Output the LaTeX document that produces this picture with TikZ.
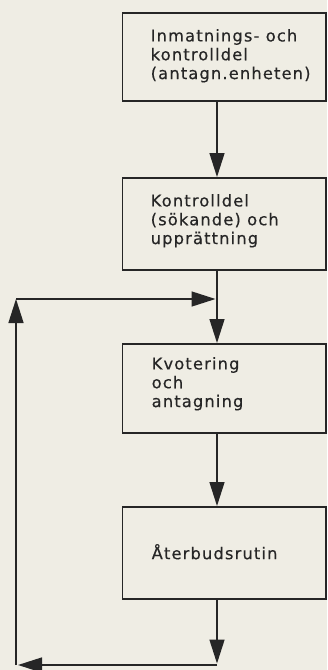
\documentclass[tikz,border=0pt]{standalone}
\usepackage{fontspec}
\setmainfont{DejaVu Sans}[LetterSpace=7,FakeBold=0.4]
\usetikzlibrary{arrows.meta,calc}
\definecolor{paper}{RGB}{239,237,228}
\definecolor{ink}{RGB}{38,38,38}
\begin{document}
\begin{tikzpicture}[x=1pt,y=-1pt,
  stepbox/.style={draw=ink, line width=1.5pt, minimum width=203.5pt, inner sep=0pt, anchor=north west},
  txt/.style={font=\fontsize{16.3}{18.8}\selectfont, text=ink, align=left, inner sep=0pt, anchor=west},
  arr/.style={draw=ink, line width=1.5pt, -{Triangle[length=24pt,width=15pt]}}]
\useasboundingbox[fill=paper] (0,0) rectangle (327,670);
% boxes
\node[stepbox, minimum height=88pt] (b1) at (121.5,12) {};
\node[stepbox, minimum height=92pt] (b2) at (121.5,177) {};
\node[stepbox, minimum height=89pt] (b3) at (121.5,343) {};
\node[stepbox, minimum height=92pt] (b4) at (121.5,506) {};
% texts
\node[txt] (t1) at ([xshift=29pt,yshift=1pt]b1.west) {Inmatnings- och\\kontrolldel\\(antagn.enheten)};
\node[txt] (t2) at ([xshift=29pt,yshift=3pt]b2.west) {Kontrolldel\\(sökande) och\\upprättning};
\node[txt] (t3) at ([xshift=30pt,yshift=4.5pt]b3.west) {Kvotering\\och\\antagning};
\node[txt] (t4) at ([xshift=30pt,yshift=1pt]b4.west) {Återbudsrutin};
% coordinates
\coordinate (spine) at (217,0);
\coordinate (jn) at (217,299);
\coordinate (tl) at (16,299);
\coordinate (bl) at (16,665);
\coordinate (br) at (217,665);
% connectors
\draw[arr] (b1.south -| spine) -- (b2.north -| spine);
\draw[arr] (b2.south -| spine) -- (b3.north -| spine);
\draw[arr] (b3.south -| spine) -- (b4.north -| spine);
\draw[arr, shorten >=1.5pt] (b4.south -| spine) -- (br);
\draw[arr, shorten >=2pt] (br) -- (bl);
\draw[arr] (bl) -- (tl);
\draw[arr, shorten >=1.5pt] (tl) -- (jn);
\end{tikzpicture}
\end{document}
